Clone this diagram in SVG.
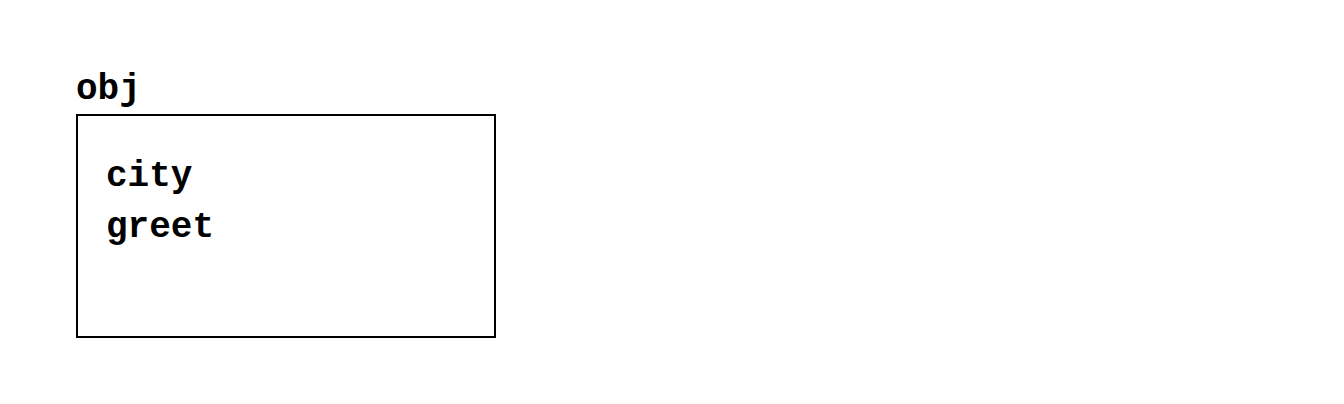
<svg xmlns="http://www.w3.org/2000/svg" width="1344" height="404" viewBox="0 0 1344 404">
<style>
.t{font-family:"Liberation Mono","Courier New",monospace;font-weight:bold;font-size:36px;fill:#000}
</style>
<rect width="1344" height="404" fill="#fff"/>
<g id="obj">
<text class="t" x="76" y="99">obj</text>
<rect x="77" y="115" width="418" height="222" fill="none" stroke="#000" stroke-width="2"/>
<text class="t" x="106" y="186">city</text>
<text class="t" x="106" y="237">greet</text>
</g>
<g id="connectors"></g>
</svg>
